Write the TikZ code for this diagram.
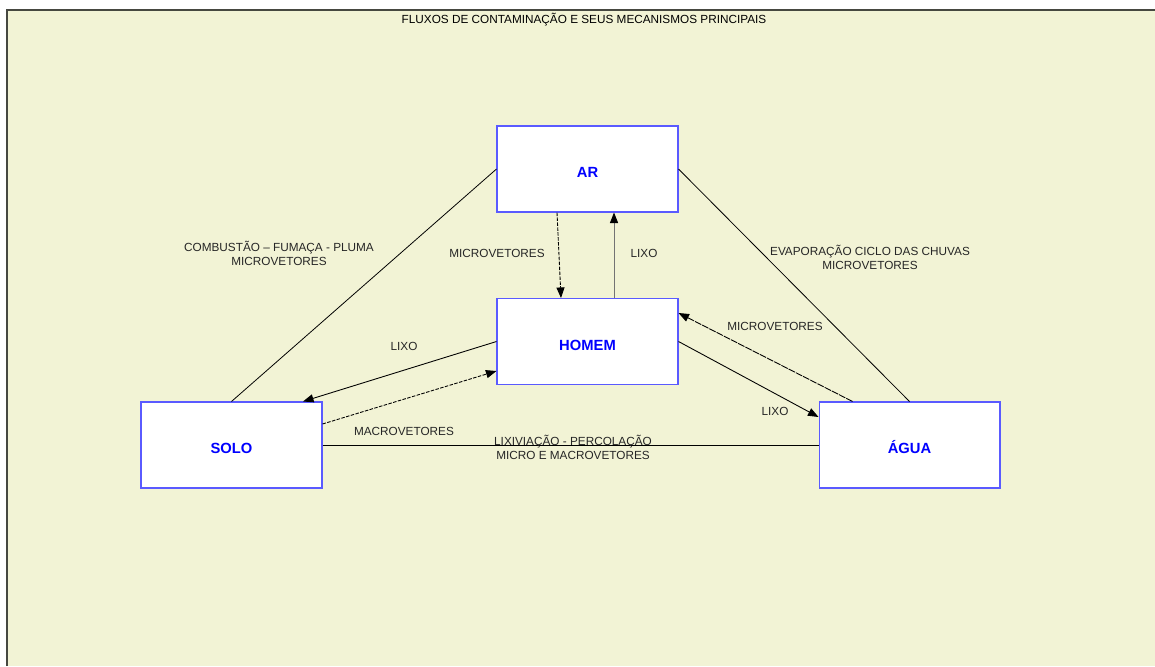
\documentclass[tikz,border=0pt]{standalone}
\usepackage{fontspec}
\setmainfont{Liberation Sans}
\usetikzlibrary{arrows.meta,calc,positioning}
\definecolor{paper}{RGB}{242,243,213}
\definecolor{frameline}{RGB}{70,72,64}
\definecolor{boxline}{RGB}{90,90,255}

\begin{document}
\begin{tikzpicture}[
    x=0.02cm, y=-0.02cm,
    compart/.style={draw=boxline, fill=white, line width=0.6pt,
                    minimum width=3.62cm, minimum height=1.72cm, inner sep=0pt,
                    text height=10pt, text depth=0pt,
                    font=\fontsize{8.4}{10}\selectfont\bfseries, text=blue},
    link/.style={line width=0.45pt},
    flow/.style={-{Triangle[length=6pt,width=4.6pt,color=black]}, line width=0.5pt},
    vector/.style={flow, dash pattern=on 2pt off 0.8pt},
    annot/.style={font=\fontsize{6.7}{8}\selectfont, align=center, text=black!85},
]

% Page
\useasboundingbox (0,0) rectangle (1155,666);
\fill[paper] (7,10) rectangle (1155,666);
\draw[frameline, line width=0.9pt] (7,666) -- (7,10) -- (1155,10);

\node[annot, text=black] (title) at (584,19.5)
    {FLUXOS DE CONTAMINAÇÃO E SEUS MECANISMOS PRINCIPAIS};

% Compartments
\node[compart] (ar)    at (587.5,169)   {AR};
\node[compart] (homem) at (587.5,341.5) {HOMEM};
\node[compart] (solo)  at (231.5,445)   {SOLO};
\node[compart] (agua)  at (909.5,445)   {ÁGUA};

% Outer triangle
\draw[link] (ar.west) -- (solo.north);
\draw[link] (ar.east) -- (agua.north);
\draw[link] (solo.east) -- (agua.west);

% Air <-> man
\draw[vector] ($(ar.south)+(-30.5,0)$) -- ($(homem.north)+(-26.5,0)$);
\draw[flow, black!55] ($(homem.north)+(26.5,0)$) -- ($(ar.south)+(26.5,0)$);

% Man <-> soil
\draw[flow] (homem.west) -- ($(solo.north)+(71.5,0)$);
\draw[vector] ($(solo.east)+(0,-21)$) -- ($(homem.west)+(0,29.5)$);

% Man <-> water
\draw[flow] (homem.east) -- ($(agua.west)+(0,-28)$);
\draw[vector, dash pattern=on 4pt off 0.6pt] ($(agua.north)+(-57,0)$) -- ($(homem.east)+(0,-28.5)$);

% Labels
\node[annot] (combustao) at (279,253) {COMBUSTÃO – FUMAÇA - PLUMA\\MICROVETORES};
\node[annot] (evaporacao) at (870,257) {EVAPORAÇÃO CICLO DAS CHUVAS\\MICROVETORES};
\node[annot] (lixiviacao) at (573,447) {LIXIVIAÇÃO - PERCOLAÇÃO\\MICRO E MACROVETORES};
\node[annot] (micro1) at (497,253) {MICROVETORES};
\node[annot] (lixo1)  at (644,253) {LIXO};
\node[annot] (lixo2)  at (404,346) {LIXO};
\node[annot] (macro)  at (404,431) {MACROVETORES};
\node[annot] (micro2) at (775,326) {MICROVETORES};
\node[annot] (lixo3)  at (775,411) {LIXO};

\end{tikzpicture}
\end{document}
